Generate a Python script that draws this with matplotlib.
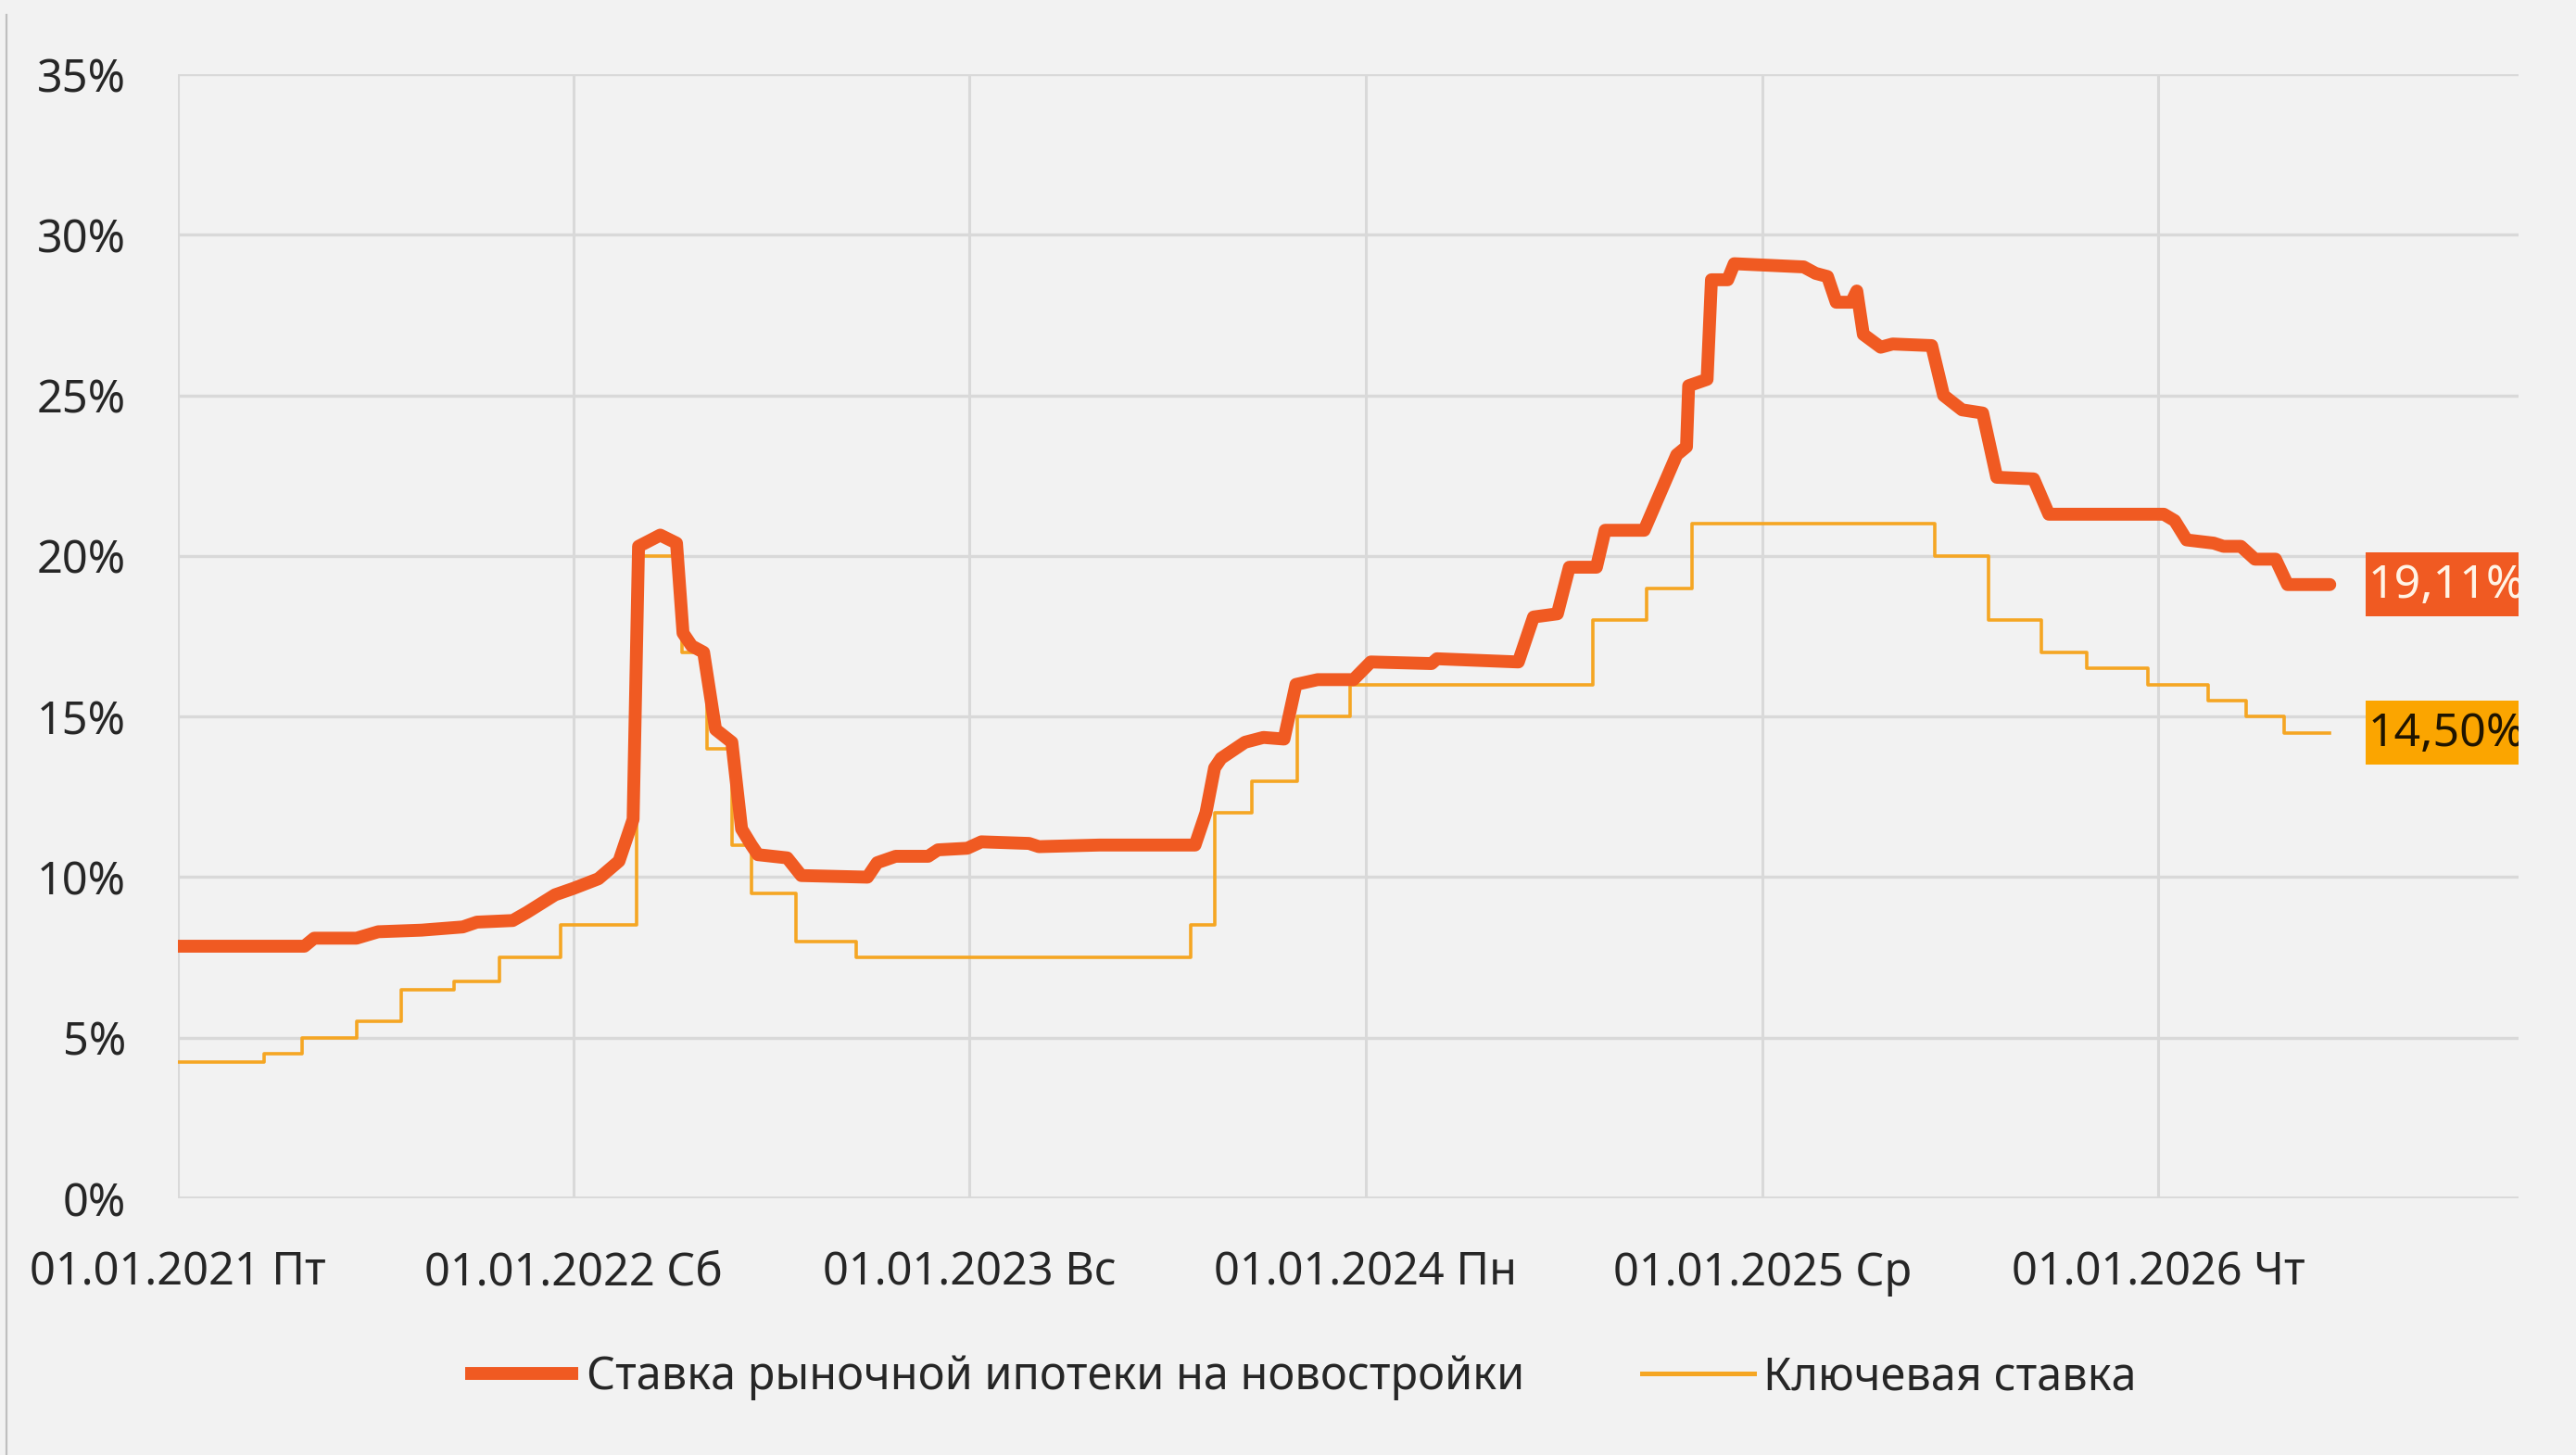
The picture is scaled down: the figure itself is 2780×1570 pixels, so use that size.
import pandas as pd
import matplotlib
matplotlib.use("Agg")
import matplotlib.pyplot as plt
from matplotlib.patches import Rectangle
from matplotlib.lines import Line2D

plt.rcParams['font.family'] = ['Noto Sans', 'DejaVu Sans']

# === Данные ===
# Ставка рыночной ипотеки на новостройки (%)
mort_dates = ["2021-01-01", "2021-04-28", "2021-05-07", "2021-06-15", "2021-07-05",
              "2021-08-14", "2021-09-21", "2021-10-04", "2021-11-06", "2021-11-19",
              "2021-12-15", "2022-01-01", "2022-01-24", "2022-02-12", "2022-02-25",
              "2022-03-02", "2022-03-22", "2022-04-06", "2022-04-12", "2022-04-20",
              "2022-05-01", "2022-05-12", "2022-05-27", "2022-06-05", "2022-06-14",
              "2022-06-20", "2022-07-17", "2022-07-30", "2022-09-29", "2022-10-08",
              "2022-10-25", "2022-11-24", "2022-12-03", "2022-12-30", "2023-01-12",
              "2023-02-25", "2023-03-06", "2023-05-01", "2023-07-28", "2023-08-07",
              "2023-08-15", "2023-08-21", "2023-09-12", "2023-09-29", "2023-10-18",
              "2023-10-29", "2023-11-18", "2023-12-21", "2024-01-06", "2024-03-02",
              "2024-03-07", "2024-05-21", "2024-06-04", "2024-06-26", "2024-07-07",
              "2024-08-01", "2024-08-09", "2024-09-14", "2024-10-14", "2024-10-23",
              "2024-10-25", "2024-11-11", "2024-11-15", "2024-11-30", "2024-12-06",
              "2025-02-08", "2025-02-19", "2025-03-02", "2025-03-10", "2025-03-24",
              "2025-03-29", "2025-04-04", "2025-04-20", "2025-05-01", "2025-06-06",
              "2025-06-17", "2025-07-04", "2025-07-23", "2025-08-05", "2025-09-08",
              "2025-09-22", "2026-01-06", "2026-01-16", "2026-01-27", "2026-02-21",
              "2026-03-02", "2026-03-18", "2026-03-31", "2026-04-19", "2026-04-30",
              "2026-06-08"]
mort_values = [7.85, 7.85, 8.10, 8.10, 8.30,
               8.35, 8.45, 8.60, 8.65, 8.90,
               9.45, 9.65, 9.95, 10.50, 11.80,
               20.30, 20.65, 20.40, 17.60, 17.20,
               17.00, 14.60, 14.20, 11.50, 11.00,
               10.70, 10.60, 10.05, 10.00, 10.45,
               10.65, 10.65, 10.85, 10.90, 11.10,
               11.05, 10.95, 11.00, 11.00, 12.00,
               13.40, 13.70, 14.20, 14.35, 14.30,
               16.00, 16.15, 16.15, 16.70, 16.65,
               16.80, 16.70, 18.10, 18.20, 19.65,
               19.65, 20.80, 20.80, 23.15, 23.40,
               25.30, 25.50, 28.60, 28.60, 29.10,
               29.00, 28.80, 28.70, 27.90, 27.90,
               28.25, 26.90, 26.50, 26.60, 26.55,
               25.00, 24.55, 24.45, 22.45, 22.40,
               21.30, 21.30, 21.10, 20.50, 20.40,
               20.30, 20.30, 19.90, 19.90, 19.11,
               19.11]

# Ключевая ставка ЦБ (%), даты изменений
key_dates = ["2021-01-01", "2021-03-22", "2021-04-26", "2021-06-15", "2021-07-26",
             "2021-09-13", "2021-10-25", "2021-12-20", "2022-02-28", "2022-04-11",
             "2022-05-04", "2022-05-27", "2022-06-14", "2022-07-25", "2022-09-19",
             "2023-07-24", "2023-08-15", "2023-09-18", "2023-10-30", "2023-12-18",
             "2024-07-29", "2024-09-16", "2024-10-28", "2025-06-09", "2025-07-28",
             "2025-09-15", "2025-10-27", "2025-12-22", "2026-02-16", "2026-03-23",
             "2026-04-27", "2026-06-08"]
key_values = [4.25, 4.50, 5.00, 5.50, 6.50,
              6.75, 7.50, 8.50, 20.00, 17.00,
              14.00, 11.00, 9.50, 8.00, 7.50,
              8.50, 12.00, 13.00, 15.00, 16.00,
              18.00, 19.00, 21.00, 20.00, 18.00,
              17.00, 16.50, 16.00, 15.50, 15.00,
              14.50, 14.50]

tick_dates = ["2021-01-01", "2022-01-01", "2023-01-01", "2024-01-01", "2025-01-01", "2026-01-01"]
tick_labels = ["01.01.2021 Пт", "01.01.2022 Сб", "01.01.2023 Вс",
               "01.01.2024 Пн", "01.01.2025 Ср", "01.01.2026 Чт"]
y_ticks = [0, 5, 10, 15, 20, 25, 30, 35]

mort_label = "Ставка рыночной ипотеки на новостройки"
key_label = "Ключевая ставка"
mort_end_text = "19,11%"
key_end_text = "14,50%"

# === Couleurs ===
bg = "#f2f2f2"
grid_c = "#d9d9d9"
mort_c = "#f05a22"
key_c = "#f5a623"
key_box_c = "#fba500"

fig = plt.figure(figsize=(13.9, 7.85), dpi=200, facecolor=bg)
ax = fig.add_axes([0.0689, 0.1764, 0.9088, 0.7726])
ax.set_facecolor(bg)

mort_x = pd.to_datetime(mort_dates)
key_x = pd.to_datetime(key_dates)

ax.plot(key_x, key_values, color=key_c, lw=1.3, drawstyle="steps-post",
        label=key_label, zorder=3)
ax.plot(mort_x, mort_values, color=mort_c, lw=5.0, label=mort_label,
        zorder=4, solid_capstyle="round", solid_joinstyle="round")

# axes
ax.set_xlim(pd.Timestamp("2021-01-01"), pd.Timestamp("2026-11-29"))
ax.set_ylim(0, 35)
ax.set_yticks(y_ticks)
ax.set_yticklabels([f"{v}%" for v in y_ticks])
ax.set_xticks(pd.to_datetime(tick_dates))
ax.set_xticklabels(tick_labels)
ax.tick_params(axis="both", length=0, labelsize=17.5, colors="#262626")
ax.tick_params(axis="y", pad=20)
ax.tick_params(axis="x", pad=20)

for s in ["top", "right", "bottom", "left"]:
    ax.spines[s].set_visible(False)

for v in y_ticks:
    ax.axhline(v, color=grid_c, lw=1.7 if v == 0 else 1.2, zorder=1)
for d in pd.to_datetime(tick_dates):
    ax.axvline(d, color=grid_c, lw=1.1, zorder=1)

# étiquettes de fin
box_x0 = 0.9347
for val, txt, fc, tc in [(mort_values[-1], mort_end_text, mort_c, "#fff4e6"),
                         (key_values[-1], key_end_text, key_box_c, "#1f1400")]:
    ax.add_patch(Rectangle((box_x0, val - 1.0), 1 - box_x0, 2.0,
                           transform=ax.get_yaxis_transform(), facecolor=fc,
                           edgecolor="none", zorder=5, clip_on=False))
    t = ax.text(box_x0 + 0.001, val - 0.05, txt, transform=ax.get_yaxis_transform(),
                ha="left", va="center", fontsize=18, color=tc, zorder=6)
    t.set_clip_box(ax.bbox)
    t.set_clip_on(True)

# légende
leg = fig.legend(handles=[Line2D([], [], color=mort_c, lw=5.0, solid_capstyle="butt"),
                          Line2D([], [], color=key_c, lw=1.8)],
                 labels=[mort_label, key_label], loc="center",
                 bbox_to_anchor=(0.505, 0.0535), ncol=2, frameon=False,
                 fontsize=17.5, handlelength=2.5, handletextpad=0.2,
                 columnspacing=2.6, labelcolor="#262626")

# bordure gauche du cadre
fig.add_artist(Line2D([0.0025, 0.0025], [0.0, 0.99], color="#bfbfbf", lw=0.8,
                      transform=fig.transFigure))

fig.savefig("out.png", dpi=200, facecolor=bg)
plt.close(fig)
